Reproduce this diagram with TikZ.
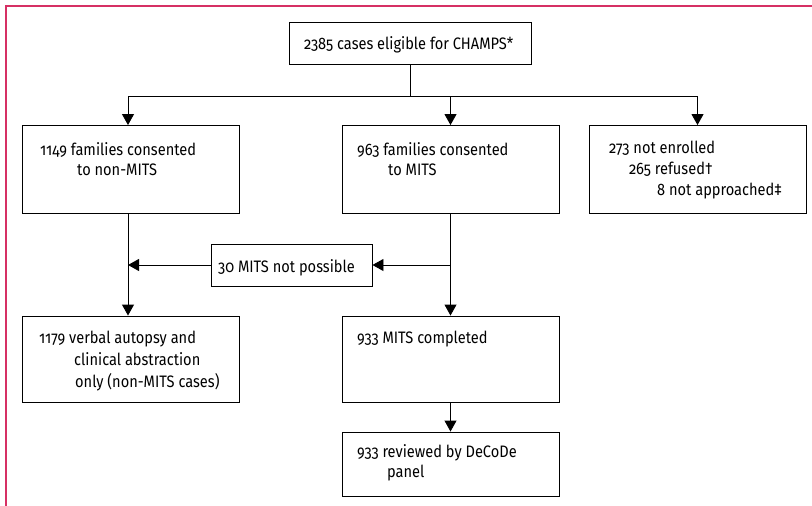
\documentclass[tikz,border=0pt]{standalone}
\usepackage{fontspec}
\setmainfont{Fira Sans}[Numbers=OldStyle, FakeStretch=0.88]
\usetikzlibrary{arrows.meta}
\definecolor{framepink}{RGB}{214,48,100}
\tikzset{
  box/.style={draw=black, line width=0.9pt, inner sep=0pt, fill=none},
  txt/.style={anchor=base west, inner sep=0pt, font=\fontsize{16.6}{20}\selectfont},
  conn/.style={line width=0.9pt, draw=black},
  arr/.style={conn, -{Triangle[width=12pt,length=11pt]}},
}
\begin{document}
\begin{tikzpicture}[x=1pt,y=-1pt]
\useasboundingbox (0,0) rectangle (812,506);
% frame
\draw[framepink, line width=1.3pt] (6,506) -- (6,6) -- (812,6);
% boxes
\node[box, minimum width=242pt, minimum height=42pt] (top) at (410,43) {};
\node[box, minimum width=217pt, minimum height=87.5pt] (n1) at (130.5,169.25) {};
\node[box, minimum width=217pt, minimum height=87.5pt] (n2) at (450.5,169.25) {};
\node[box, minimum width=217pt, minimum height=87.5pt] (n3) at (697.5,169.25) {};
\node[box, minimum width=161pt, minimum height=42pt] (m30) at (291.5,265) {};
\node[box, minimum width=217pt, minimum height=86pt] (n4) at (130.5,359) {};
\node[box, minimum width=217pt, minimum height=86pt] (n5) at (450.5,359) {};
\node[box, minimum width=217pt, minimum height=64pt] (n6) at (450.5,464) {};
% texts
\node[txt] (ttop) at (304,49) {2385 cases eligible for CHAMPS*};
\node[txt] (t1a) at (40,155) {1149 families consented};
\node[txt] (t1b) at (77,175) {to non-MITS};
\node[txt] (t2a) at (357,155) {963 families consented};
\node[txt] (t2b) at (388,175) {to MITS};
\node[txt] (t3a) at (609,153) {273 not enrolled};
\node[txt] (t3b) at (629,174) {265 refused†};
\node[txt] (t3c) at (657,195) {8 not approached‡};
\node[txt] (tm) at (218,272) {30 MITS not possible};
\node[txt] (t4a) at (39,343) {1179 verbal autopsy and};
\node[txt] (t4b) at (74,365) {clinical abstraction};
\node[txt] (t4c) at (75,387) {only (non-MITS cases)};
\node[txt] (t5a) at (357,343) {933 MITS completed};
\node[txt] (t6a) at (357,457) {933 reviewed by DeCoDe};
\node[txt] (t6b) at (387,477) {panel};
% connectors
\coordinate (jt) at (410,96);
\coordinate (jl) at (128,96);
\coordinate (jr) at (697.5,96);
\draw[conn] (top.south) -- (jt);
\draw[conn] (jl) -- (jr);
\draw[arr] (jl) -- (jl |- n1.north);
\draw[arr] (n2.north |- jt) -- (n2.north);
\draw[arr] (jr) -- (n3.north);
\coordinate (ml) at (128,265);
\draw[conn] (n1.south -| ml) -- (ml);
\draw[arr] (ml) -- (ml |- n4.north);
\draw[arr] (n2.south) -- (n5.north);
\draw[arr] (n2.south |- m30.east) -- (m30.east);
\draw[arr] (m30.west) -- (ml);
\draw[arr] (n5.south) -- (n6.north);
\end{tikzpicture}
\end{document}
